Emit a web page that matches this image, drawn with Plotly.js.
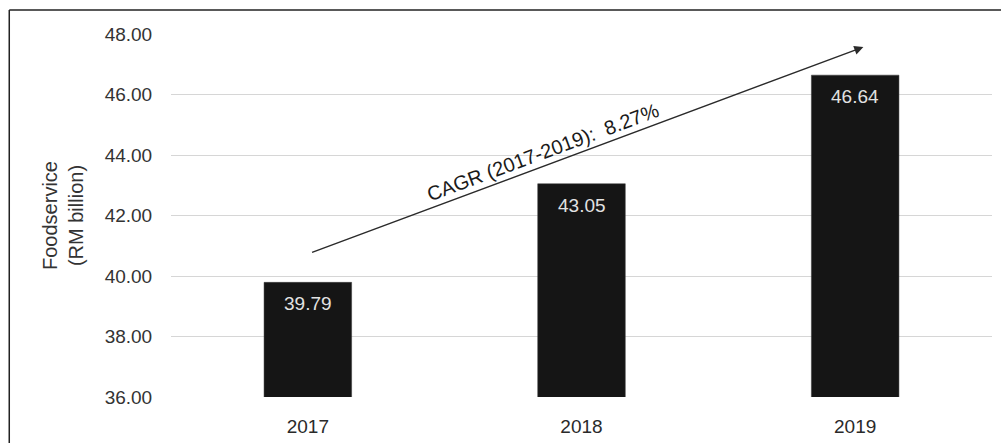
<!DOCTYPE html>
<html>
<head>
<meta charset="utf-8">
<script src="https://cdn.plot.ly/plotly-3.0.1.min.js"></script>
<style>
  html, body { margin: 0; padding: 0; background: #ffffff; }
  #chart { width: 1001px; height: 443px; }
</style>
</head>
<body>
<div id="chart"></div>
<script>
const years = ['2017', '2018', '2019'];
const values = [39.79, 43.05, 46.64];
const valueLabels = ['39.79', '43.05', '46.64'];
const yTicks = [36, 38, 40, 42, 44, 46, 48];
const yTickLabels = ['36.00', '38.00', '40.00', '42.00', '44.00', '46.00', '48.00'];
const cagrText = 'CAGR (2017-2019):  8.27%';

const FONT = 'Liberation Sans, Arial, sans-serif';

const trace = {
  type: 'bar',
  x: years,
  y: values,
  width: 0.32,
  marker: { color: '#151515', line: { color: '#3a3a3a', width: 0.5 } },
  hoverinfo: 'skip'
};

// Value labels inside the tops of the bars (category index positions)
const labelAnnotations = years.map((yr, i) => ({
  x: i, y: values[i], xref: 'x', yref: 'y',
  text: valueLabels[i], showarrow: false,
  yanchor: 'top', yshift: -9,
  font: { family: FONT, size: 19, color: '#e2e2e2' }
}));

// CAGR arrow, anchored to the first and last bar
const arrow = {
  xref: 'x', yref: 'y', axref: 'x', ayref: 'y',
  x: 2.03, y: values[2] + 0.93,
  ax: 0.01, ay: values[0] + 0.97,
  text: '', showarrow: true,
  arrowhead: 2, arrowsize: 1.3, arrowwidth: 1.4, arrowcolor: '#2a2a2a',
  standoff: 0, startstandoff: 0
};

const cagrLabel = {
  xref: 'x', yref: 'y', x: 0.86, y: 44.1,
  text: cagrText, showarrow: false, textangle: -20.4,
  font: { family: FONT, size: 20, color: '#1a1a1a' }
};

const layout = {
  width: 1001, height: 443,
  margin: { l: 171, r: 9, t: 34, b: 46 },
  paper_bgcolor: '#ffffff',
  plot_bgcolor: '#ffffff',
  showlegend: false,
  font: { family: FONT, color: '#333333' },
  xaxis: {
    type: 'category',
    range: [-0.5, 2.5],
    showgrid: false, zeroline: false, showline: false,
    ticks: 'outside', ticklen: 12, tickcolor: 'rgba(0,0,0,0)',
    tickfont: { family: FONT, size: 19, color: '#2a2a2a' }
  },
  yaxis: {
    range: [36, 48],
    tickvals: yTicks, ticktext: yTickLabels,
    showgrid: true, gridcolor: '#d6d6d6', gridwidth: 1,
    zeroline: false, showline: false,
    ticks: 'outside', ticklen: 14, tickcolor: 'rgba(0,0,0,0)',
    tickfont: { family: FONT, size: 19, color: '#333333' },
    title: {
      text: 'Foodservice<br>(RM billion)',
      standoff: 15,
      font: { family: FONT, size: 20, color: '#333333' }
    }
  },
  annotations: labelAnnotations.concat([arrow, cagrLabel]),
  shapes: [
    { type: 'line', xref: 'paper', yref: 'paper',
      x0: -0.197, x1: 1.02, y0: 1.066, y1: 1.066,
      line: { color: '#222222', width: 1.5 } },
    { type: 'line', xref: 'paper', yref: 'paper',
      x0: -0.197, x1: -0.197, y0: 1.066, y1: -0.13,
      line: { color: '#222222', width: 1.5 } }
  ]
};

Plotly.newPlot('chart', [trace], layout, { displayModeBar: false, staticPlot: true });
</script>
</body>
</html>
